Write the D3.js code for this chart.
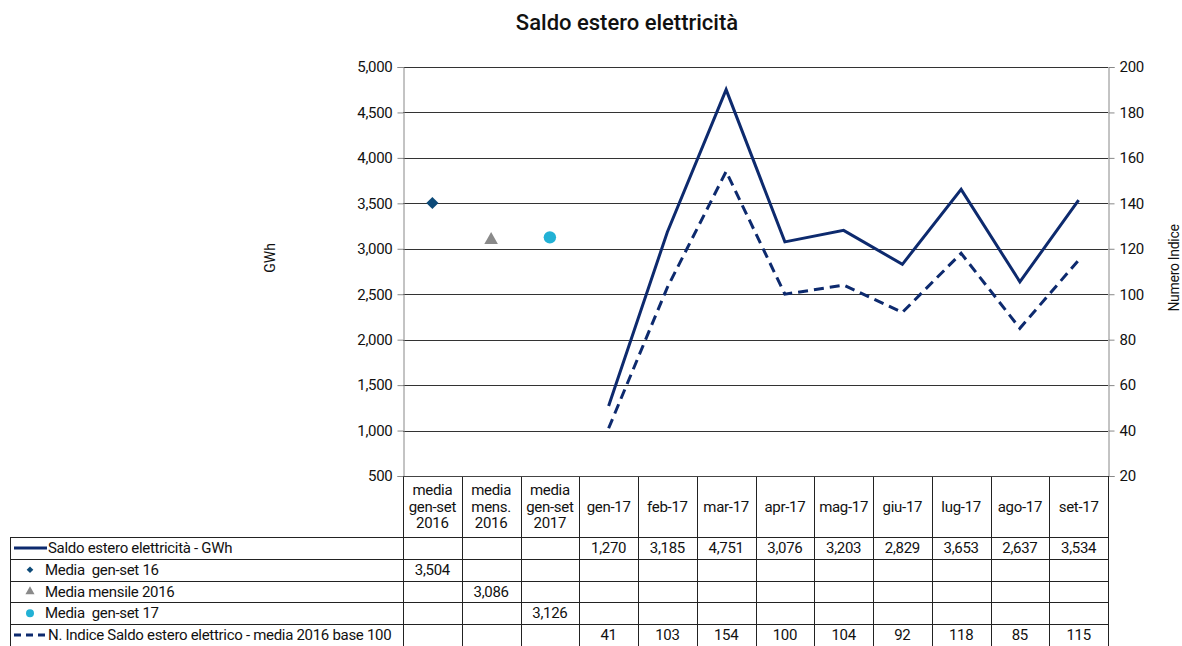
<!DOCTYPE html>
<html>
<head>
<meta charset="utf-8">
<script src="https://cdn.jsdelivr.net/npm/d3@7"></script>
<style>
  body { margin: 0; background: #fff; }
  svg text { font-family: Roboto, "Liberation Sans", sans-serif; fill: #111; white-space: pre; }
</style>
</head>
<body>
<div id="chart"></div>
<script>
// ── data ──────────────────────────────────────────────
const categories = [
  ['media', 'gen-set', '2016'],
  ['media', 'mens.', '2016'],
  ['media', 'gen-set', '2017'],
  ['gen-17'], ['feb-17'], ['mar-17'], ['apr-17'], ['mag-17'],
  ['giu-17'], ['lug-17'], ['ago-17'], ['set-17']
];
const saldoGWh   = [null, null, null, 1270, 3185, 4751, 3076, 3203, 2829, 3653, 2637, 3534];
const mediaGenSet16 = [3504, null, null, null, null, null, null, null, null, null, null, null];
const mediaMens2016 = [null, 3086, null, null, null, null, null, null, null, null, null, null];
const mediaGenSet17 = [null, null, 3126, null, null, null, null, null, null, null, null, null];
const indice     = [null, null, null, 41, 103, 154, 100, 104, 92, 118, 85, 115];
const leftTicks  = [500, 1000, 1500, 2000, 2500, 3000, 3500, 4000, 4500, 5000];
const rightTicks = [20, 40, 60, 80, 100, 120, 140, 160, 180, 200];

const NAVY = '#0d2a6e';
const W = 1182, H = 646;
const L = 403, R = 1108, T = 67, B = 476;
const FS = 15;

const svg = d3.select('#chart').append('svg').attr('width', W).attr('height', H);

const x = d3.scaleBand().domain(d3.range(categories.length)).range([L, R]);
const y = d3.scaleLinear().domain([500, 5000]).range([B, T]);
const y2 = d3.scaleLinear().domain([20, 200]).range([B, T]);
const cx = i => x(i) + x.bandwidth() / 2;

// Title
svg.append('text')
  .attr('x', 627).attr('y', 30)
  .attr('text-anchor', 'middle')
  .attr('font-size', 22).attr('font-weight', 500)
  .text('Saldo estero elettricità');

// Grid lines
svg.append('g')
  .selectAll('line')
  .data(leftTicks.slice(1))
  .join('line')
  .attr('x1', L).attr('x2', R)
  .attr('y1', d => Math.round(y(d)) + 0.5).attr('y2', d => Math.round(y(d)) + 0.5)
  .attr('stroke', '#333').attr('stroke-width', 1);

// Left axis
const gl = svg.append('g').attr('transform', `translate(${L + 0.5},0)`)
  .call(d3.axisLeft(y).tickValues(leftTicks).tickSize(6).tickFormat(d3.format(',')));
gl.select('.domain').attr('stroke', '#888');
gl.selectAll('.tick line').attr('stroke', '#888');
gl.selectAll('text').attr('font-size', FS).attr('dx', -2).style('letter-spacing', '-0.3px')
  .attr('font-family', 'Roboto, sans-serif');

// Right axis
const gr = svg.append('g').attr('transform', `translate(${R + 0.5},0)`)
  .call(d3.axisRight(y2).tickValues(rightTicks).tickSize(6));
gr.select('.domain').attr('stroke', '#888');
gr.selectAll('.tick line').attr('stroke', '#888');
gr.selectAll('text').attr('font-size', FS).attr('dx', 2).style('letter-spacing', '-0.3px')
  .attr('font-family', 'Roboto, sans-serif');

// Axis titles
svg.append('text')
  .attr('transform', `translate(275,258) rotate(-90)`)
  .attr('text-anchor', 'middle').attr('font-size', 14)
  .text('GWh');
svg.append('text')
  .attr('transform', `translate(1179,268) rotate(-90)`)
  .attr('text-anchor', 'middle').attr('font-size', 14)
  .style('letter-spacing', '-0.3px')
  .text('Numero Indice');

// Saldo line
const idx = d3.range(categories.length);
svg.append('path')
  .datum(idx.filter(i => saldoGWh[i] != null))
  .attr('fill', 'none').attr('stroke', NAVY).attr('stroke-width', 3)
  .attr('stroke-linejoin', 'miter')
  .attr('d', d3.line().x(cx).y(i => y(saldoGWh[i])));

// Indice dashed line (right axis)
svg.append('path')
  .datum(idx.filter(i => indice[i] != null))
  .attr('fill', 'none').attr('stroke', NAVY).attr('stroke-width', 3)
  .attr('stroke-dasharray', '10,6')
  .attr('d', d3.line().x(cx).y(i => y2(indice[i])));

// Marker series
const sym = (type, size) => d3.symbol().type(type).size(size)();
idx.filter(i => mediaGenSet16[i] != null).forEach(i => {
  svg.append('path').attr('d', sym(d3.symbolSquare, 74))
    .attr('transform', `translate(${cx(i)},${y(mediaGenSet16[i])}) rotate(45)`)
    .attr('fill', '#0d4a78');
});
idx.filter(i => mediaMens2016[i] != null).forEach(i => {
  svg.append('path').attr('d', sym(d3.symbolTriangle, 80))
    .attr('transform', `translate(${cx(i)},${y(mediaMens2016[i]) - 1})`)
    .attr('fill', '#8a8a8a');
});
idx.filter(i => mediaGenSet17[i] != null).forEach(i => {
  svg.append('circle')
    .attr('cx', cx(i)).attr('cy', y(mediaGenSet17[i])).attr('r', 6.2)
    .attr('fill', '#22b1d5');
});

// ── data table ─────────────────────────────────────────
const tableL = 10;
const headB = 537;
const rowH = 21.8;
const rows = [
  { label: 'Saldo estero elettricità - GWh', values: saldoGWh, key: 'line' },
  { label: 'Media  gen-set 16', values: mediaGenSet16, key: 'diamond' },
  { label: 'Media mensile 2016', values: mediaMens2016, key: 'triangle' },
  { label: 'Media  gen-set 17', values: mediaGenSet17, key: 'circle' },
  { label: 'N. Indice Saldo estero elettrico - media 2016 base 100', values: indice, key: 'dash' }
];
const tbl = svg.append('g');
const fmt = d3.format(',');

// Header: category labels
categories.forEach((lines, i) => {
  const t = tbl.append('text')
    .attr('x', cx(i)).attr('text-anchor', 'middle')
    .attr('font-size', FS).style('letter-spacing', '-0.3px');
  const y0 = lines.length === 1 ? 512 : 495;
  lines.forEach((s, k) => t.append('tspan').attr('x', cx(i)).attr('y', y0 + k * 16.5).text(s));
});

// Header vertical separators
tbl.selectAll('line.hsep')
  .data(d3.range(categories.length + 1))
  .join('line')
  .attr('x1', i => Math.round(i < categories.length ? x(i) : R) + 0.5)
  .attr('x2', i => Math.round(i < categories.length ? x(i) : R) + 0.5)
  .attr('y1', B).attr('y2', headB)
  .attr('stroke', '#222');
tbl.append('line')
  .attr('x1', L).attr('x2', R)
  .attr('y1', B + 0.5).attr('y2', B + 0.5).attr('stroke', '#444');

// Body rows
rows.forEach((r, ri) => {
  const top = headB + ri * rowH;
  const mid = top + rowH / 2;
  tbl.append('line')
    .attr('x1', tableL).attr('x2', R)
    .attr('y1', Math.round(top) + 0.5).attr('y2', Math.round(top) + 0.5)
    .attr('stroke', '#222');
  // legend key
  if (r.key === 'line') {
    tbl.append('line').attr('x1', 14).attr('x2', 47).attr('y1', mid).attr('y2', mid)
      .attr('stroke', NAVY).attr('stroke-width', 3);
  } else if (r.key === 'dash') {
    tbl.append('line').attr('x1', 14).attr('x2', 47).attr('y1', mid).attr('y2', mid)
      .attr('stroke', NAVY).attr('stroke-width', 3).attr('stroke-dasharray', '7,5');
  } else if (r.key === 'diamond') {
    tbl.append('path').attr('d', sym(d3.symbolSquare, 22))
      .attr('transform', `translate(30,${mid}) rotate(45)`).attr('fill', '#0d4a78');
  } else if (r.key === 'triangle') {
    tbl.append('path').attr('d', sym(d3.symbolTriangle, 36))
      .attr('transform', `translate(30,${mid})`).attr('fill', '#8a8a8a');
  } else {
    tbl.append('circle').attr('cx', 30).attr('cy', mid).attr('r', 4).attr('fill', '#22b1d5');
  }
  tbl.append('text')
    .attr('x', r.key === 'line' || r.key === 'dash' ? 48 : 45).attr('y', mid + 5)
    .attr('font-size', FS).style('letter-spacing', '-0.3px')
    .text(r.label);
  r.values.forEach((v, i) => {
    if (v == null) return;
    tbl.append('text')
      .attr('x', cx(i)).attr('y', mid + 5).attr('text-anchor', 'middle')
      .attr('font-size', FS).style('letter-spacing', '-0.3px')
      .text(fmt(v));
  });
});
tbl.append('line')
  .attr('x1', tableL).attr('x2', R)
  .attr('y1', Math.round(headB + rows.length * rowH) + 0.5)
  .attr('y2', Math.round(headB + rows.length * rowH) + 0.5)
  .attr('stroke', '#222');

// Body verticals
const vx = [tableL].concat(d3.range(categories.length).map(i => x(i)), [R]);
tbl.selectAll('line.vsep')
  .data(vx)
  .join('line')
  .attr('x1', d => Math.round(d) + 0.5).attr('x2', d => Math.round(d) + 0.5)
  .attr('y1', headB).attr('y2', headB + rows.length * rowH)
  .attr('stroke', '#222');
</script>
</body>
</html>
